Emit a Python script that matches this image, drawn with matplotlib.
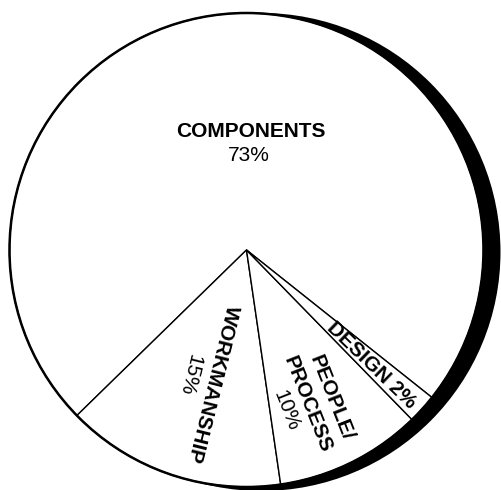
import matplotlib
matplotlib.use("Agg")
import matplotlib.pyplot as plt
from matplotlib.patches import Circle

plt.rcParams['font.family'] = ['Liberation Sans', 'DejaVu Sans']

# slices, counter-clockwise from the right edge of DESIGN
categories = ["COMPONENTS", "WORKMANSHIP", "PEOPLE/\nPROCESS", "DESIGN"]
percents = [73, 15, 10, 2]

W, H = 501, 490
fig = plt.figure(figsize=(W / 100, H / 100), dpi=100)
ax = fig.add_axes([0, 0, 1, 1])

cx, cy, R = 246.5, H - 250, 237

# black shadow behind the pie
ax.add_patch(Circle((cx + 15, cy - 2), R + 2, facecolor="black", edgecolor="none", zorder=0))

ax.pie(percents, startangle=321.5, counterclock=True, colors=["white"] * 4,
       center=(cx, cy), radius=R,
       wedgeprops=dict(edgecolor="black", linewidth=1.0))
ax.add_patch(Circle((cx, cy), R, facecolor="none", edgecolor="black", linewidth=1.8, zorder=5))

ax.set_xlim(0, W)
ax.set_ylim(0, H)
ax.set_aspect("equal")
ax.axis("off")

fs = 15
def lab(x, y, s, rot=0, bold=True):
    ax.text(x, H - y, s, rotation=rot, rotation_mode="anchor", ha="center", va="center",
            fontsize=fs, fontweight="bold" if bold else "normal", zorder=6)

lab(251, 131.5, categories[0])
lab(249, 155.5, f"{percents[0]}%", bold=False)

lab(213, 384, categories[1], rot=-104)
lab(190, 375, f"{percents[1]}%", rot=-104, bold=False)

l1, l2 = categories[2].split("\n")
lab(331.5, 397.5, l1, rot=-68.5)
lab(307.5, 404, l2, rot=-68.5)
lab(286, 411, f"{percents[2]}%", rot=-68.5, bold=False)

lab(371, 365, f"{categories[3]} {percents[3]}%", rot=-44)

fig.savefig("out.png", dpi=100)
